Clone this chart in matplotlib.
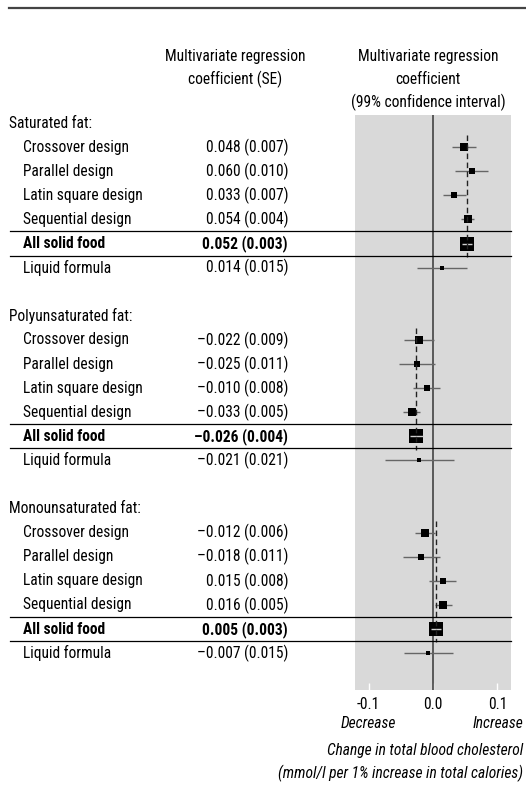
import matplotlib
matplotlib.use("Agg")
import matplotlib.pyplot as plt
from matplotlib import font_manager as fm
from matplotlib.transforms import blended_transform_factory

available = {f.name for f in fm.fontManager.ttflist}
preferred = ['Roboto Condensed', 'Fira Sans Condensed', 'Barlow Semi Condensed', 'Archivo Narrow']
main_font = next((f for f in preferred if f in available), 'DejaVu Sans')
plt.rcParams['font.family'] = [main_font, 'DejaVu Sans']

# ---------------- data ----------------
groups = ["Saturated fat:", "Polyunsaturated fat:", "Monounsaturated fat:"]
designs = ["Crossover design", "Parallel design", "Latin square design",
           "Sequential design", "All solid food", "Liquid formula"]
sat_coef = [0.048, 0.060, 0.033, 0.054, 0.052, 0.014]
sat_se = [0.007, 0.010, 0.007, 0.004, 0.003, 0.015]
poly_coef = [-0.022, -0.025, -0.010, -0.033, -0.026, -0.021]
poly_se = [0.009, 0.011, 0.008, 0.005, 0.004, 0.021]
mono_coef = [-0.012, -0.018, 0.015, 0.016, 0.005, -0.007]
mono_se = [0.006, 0.011, 0.008, 0.005, 0.003, 0.015]
xticks = [-0.1, 0.0, 0.1]
xtick_labels = ["-0.1", "0.0", "0.1"]
z99 = 2.576

coefs = [sat_coef, poly_coef, mono_coef]
ses = [sat_se, poly_se, mono_se]

# ---------------- style ----------------
W, H = 526, 785
fig = plt.figure(figsize=(W / 100, H / 100), dpi=100)
fs = 11.2
marker_px = [7.5, 6.8, 6.8, 8.6, 14.5, 3.8]   # per design row
bold_row = 4

ax = fig.add_axes([355 / W, 1 - 690 / H, (511 - 355) / W, (690 - 115) / H])
ax.set_facecolor('#d9d9d9')
for s in ax.spines.values():
    s.set_visible(False)
ax.set_xlim(-0.121, 0.121)
row0_px, row_step = 123.0, 24.1
ax.set_ylim((690 - row0_px) / row_step, (115 - row0_px) / row_step)
ax.set_yticks([])
ax.set_xticks(xticks)
ax.set_xticklabels(xtick_labels, fontsize=fs)
ax.tick_params(axis='x', direction='in', color='white', length=5, width=1, pad=5)

ax.axvline(0, color='#444444', lw=1.2, zorder=2)

bt = blended_transform_factory(fig.transFigure, ax.transData)

def fx(px):
    return px / W

row = 0
for g, (gname, cf, se) in enumerate(zip(groups, coefs, ses)):
    ax.text(fx(9), row, gname, transform=bt, ha='left', va='center', fontsize=fs)
    first = row + 1
    for k, (d, c, s) in enumerate(zip(designs, cf, se)):
        r = row + 1 + k
        weight = 'bold' if k == bold_row else 'normal'
        ax.text(fx(23), r, d, transform=bt, ha='left', va='center', fontsize=fs, fontweight=weight)
        txt = f"{c:.3f} ({s:.3f})".replace('-', '\u2013')
        ax.text(fx(288), r, txt, transform=bt, ha='right', va='center', fontsize=fs, fontweight=weight)
        lo, hi = c - z99 * s, c + z99 * s
        ms = marker_px[k] * 0.72
        if k == bold_row:
            ax.plot([c], [r], marker='s', ms=ms, color='black', mec='black', mew=0, zorder=4)
            ax.plot([lo, hi], [r, r], color='#cfcfcf', lw=1.0, zorder=5, solid_capstyle='butt')
        else:
            ax.plot([lo, hi], [r, r], color='#666666', lw=1.0, zorder=3, solid_capstyle='butt')
            ax.plot([c], [r], marker='s', ms=ms, color='black', mec='black', mew=0, zorder=4)
    pooled = cf[bold_row]
    ax.plot([pooled, pooled], [first - 0.5, row + 1 + bold_row + 0.55], color='#222222',
            lw=1.0, dashes=(4, 2.5), zorder=6)
    for yy in (row + 1 + bold_row - 0.5, row + 1 + bold_row + 0.5):
        ax.plot([fx(10), fx(511)], [yy, yy], transform=bt, color='black', lw=0.9,
                clip_on=False, zorder=7)
    row += 8

# headers
fig.text(fx(235), 1 - 56 / H, "Multivariate regression", ha='center', va='center', fontsize=fs)
fig.text(fx(235), 1 - 79 / H, "coefficient (SE)", ha='center', va='center', fontsize=fs)
fig.text(fx(428), 1 - 56 / H, "Multivariate regression", ha='center', va='center', fontsize=fs)
fig.text(fx(428), 1 - 79 / H, "coefficient", ha='center', va='center', fontsize=fs)
fig.text(fx(428), 1 - 102 / H, "(99% confidence interval)", ha='center', va='center', fontsize=fs)

# top rule
fig.add_artist(plt.Line2D([fx(9), 1.0], [1 - 8 / H, 1 - 8 / H], transform=fig.transFigure,
                          color='#444444', lw=1.6))

# axis annotations
xb = blended_transform_factory(ax.transData, fig.transFigure)
ax.text(-0.1, 1 - 723 / H, "Decrease", transform=xb, ha='center', va='center',
        fontsize=fs, style='italic')
ax.text(0.1, 1 - 723 / H, "Increase", transform=xb, ha='center', va='center',
        fontsize=fs, style='italic')
fig.text(fx(523), 1 - 750 / H, "Change in total blood cholesterol", ha='right', va='center',
         fontsize=fs, style='italic')
fig.text(fx(523), 1 - 773 / H, "(mmol/l per 1% increase in total calories)", ha='right',
         va='center', fontsize=fs, style='italic')

fig.savefig("out.png", dpi=100)
